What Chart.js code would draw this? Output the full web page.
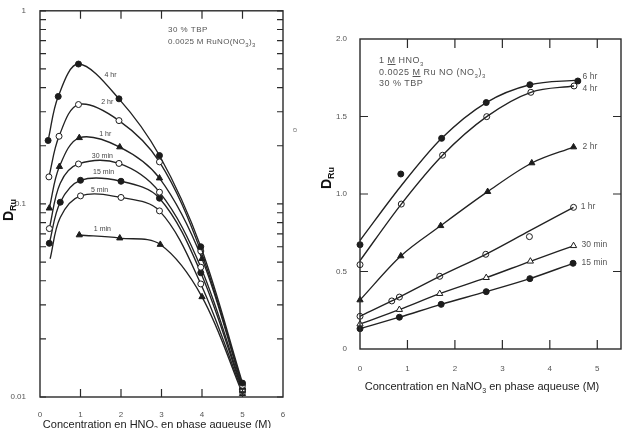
<!DOCTYPE html>
<html><head><meta charset="utf-8">
<script src="https://cdn.jsdelivr.net/npm/chart.js@4.4.1/dist/chart.umd.min.js"></script>
<style>
body{margin:0;background:#fff;}
#wrap{position:relative;width:628px;height:428px;overflow:hidden;background:#fff;font-family:'Liberation Sans',Arial,sans-serif;color:#333}
.box{position:absolute;top:0;width:314px;height:428px}
.t{position:absolute;white-space:nowrap;line-height:1}
.ytitle{position:absolute;width:34px;height:16px;text-align:center;transform:rotate(-90deg);font-weight:bold;font-size:14px;color:#111;line-height:16px}
.ytitle sub{font-size:9px;vertical-align:-3px}
</style></head><body>
<div id="wrap">
<div class="box" style="left:0"><canvas id="leftChart"></canvas></div>
<div class="box" style="left:314px"><canvas id="rightChart"></canvas></div>

<div class="t" style="left:168px;top:26px;font-size:8px;letter-spacing:.5px;color:#555">30 % TBP</div>
<div class="t" style="left:168px;top:38px;font-size:8px;letter-spacing:.3px;color:#555">0.0025 M RuNO(NO<sub style="font-size:6px">3</sub>)<sub style="font-size:6px">3</sub></div>
<div class="t" style="left:293px;top:126px;font-size:8px;color:#777;transform:rotate(-90deg)">o</div>

<div class="t" style="left:379px;top:56px;font-size:9px;letter-spacing:.5px;color:#555">1 <u>M</u> HNO<sub style="font-size:6px">3</sub></div>
<div class="t" style="left:379px;top:68px;font-size:9px;letter-spacing:.5px;color:#555">0.0025 <u>M</u> Ru NO (NO<sub style="font-size:6px">3</sub>)<sub style="font-size:6px">3</sub></div>
<div class="t" style="left:379px;top:79px;font-size:9px;letter-spacing:.5px;color:#555">30 % TBP</div>

<div class="ytitle" style="left:-9px;top:202px">D<sub>Ru</sub></div>
<div class="ytitle" style="left:309px;top:170px">D<sub>Ru</sub></div>

<div class="t" style="left:0;width:314px;text-align:center;top:419px;font-size:11px;color:#222">Concentration en HNO<sub style="font-size:7px">3</sub> en phase aqueuse (M)</div>
<div class="t" style="left:314px;width:336px;text-align:center;top:381px;font-size:11px;color:#222">Concentration en NaNO<sub style="font-size:7px">3</sub> en phase aqueuse (M)</div>
</div>
<script>
// ---------- LEFT CHART : D_Ru vs [HNO3] (log scale) ----------
const hno3Ticks = [0, 1, 2, 3, 4, 5, 6];
const druLogLabels = [0.01, 0.1, 1];
const logMinorTicks = [0.02,0.03,0.04,0.05,0.06,0.07,0.08,0.09,0.2,0.3,0.4,0.5,0.6,0.7,0.8,0.9];

const hno3_4hr = [0.2, 0.45, 0.95, 1.95, 2.95, 3.97, 5.0];
const dru_4hr  = [0.213, 0.36, 0.53, 0.35, 0.178, 0.060, 0.0118];
const hno3_2hr = [0.22, 0.47, 0.95, 1.95, 2.95, 3.97, 5.0];
const dru_2hr  = [0.138, 0.224, 0.327, 0.27, 0.165, 0.057, 0.0115];
const hno3_1hr = [0.23, 0.48, 0.97, 1.97, 2.95, 4.0, 5.0];
const dru_1hr  = [0.095, 0.156, 0.22, 0.197, 0.136, 0.052, 0.0112];
const hno3_30m = [0.23, 0.5, 0.95, 1.95, 2.95, 3.97, 5.0];
const dru_30m  = [0.0745, 0.128, 0.161, 0.162, 0.115, 0.047, 0.0110];
const hno3_15m = [0.23, 0.5, 1.0, 2.0, 2.95, 3.97, 5.0];
const dru_15m  = [0.0625, 0.102, 0.1325, 0.131, 0.107, 0.044, 0.0108];
const hno3_5m  = [0.25, 0.5, 1.0, 2.0, 2.95, 3.97, 5.0];
const dru_5m   = [0.052, 0.085, 0.110, 0.108, 0.092, 0.0385, 0.0106];
const hno3_1m  = [0.97, 1.97, 2.97, 4.0, 5.0];
const dru_1m   = [0.069, 0.0665, 0.0616, 0.033, 0.0104];

// ---------- RIGHT CHART : D_Ru vs [NaNO3] ----------
const nano3Ticks = [0, 1, 2, 3, 4, 5];
const druLinTicks = [0, 0.5, 1.0, 1.5, 2.0];

const nano3_6hr = [0, 0.86, 1.72, 2.66, 3.58, 4.59];
const druN_6hr  = [0.673, 1.129, 1.359, 1.59, 1.705, 1.729];
const fit_6hr   = [0.70, 1.05, 1.359, 1.59, 1.705, 1.735];
const nano3_4hr = [0, 0.87, 1.74, 2.67, 3.6, 4.51];
const druN_4hr  = [0.544, 0.935, 1.25, 1.499, 1.656, 1.697];
const fit_4hr   = [0.57, 0.935, 1.25, 1.499, 1.656, 1.697];
const nano3_2hr = [0, 0.86, 1.7, 2.69, 3.62, 4.5];
const druN_2hr  = [0.316, 0.6, 0.795, 1.015, 1.2, 1.303];
const nano3_1hr = [0, 0.67, 0.83, 1.68, 2.65, 3.57, 4.5];
const druN_1hr  = [0.211, 0.31, 0.335, 0.469, 0.611, 0.725, 0.914];
const fit_1hr   = [0.211, 0.31, 0.335, 0.469, 0.611, 0.762, 0.914];
const nano3_30m = [0, 0.83, 1.68, 2.66, 3.59, 4.5];
const druN_30m  = [0.161, 0.254, 0.357, 0.46, 0.566, 0.666];
const nano3_15m = [0, 0.83, 1.71, 2.66, 3.58, 4.49];
const druN_15m  = [0.131, 0.205, 0.288, 0.37, 0.454, 0.553];

const INK = '#1c1c1c';
const pts = (xs, ys) => xs.map((x, i) => ({x, y: ys[i]}));

function series(label, xs, ys, shape, filled, opts) {
  opts = opts || {};
  const hide = opts.hide || [];
  const r = shape === 'triangle' ? 3.6 : 3;
  return {
    label, data: pts(xs, ys),
    showLine: opts.showLine !== false,
    borderColor: '#222', borderWidth: 1.35,
    tension: opts.tension ?? 0.35,
    cubicInterpolationMode: opts.mono ? 'monotone' : 'default',
    pointStyle: shape,
    pointRadius: opts.noPoints ? 0 : xs.map((_, i) => hide.includes(i) ? 0 : r),
    pointBackgroundColor: filled ? INK : '#fff',
    pointBorderColor: INK, pointBorderWidth: 1,
    fill: false, clip: false
  };
}

const framePlugin = {
  id: 'frame',
  afterDatasetsDraw(chart, args, o) {
    const {ctx, chartArea: a, scales: {x, y}} = chart;
    ctx.save();
    ctx.strokeStyle = '#2a2a2a'; ctx.lineWidth = 1.4;
    ctx.strokeRect(a.left, a.top, a.right - a.left, a.bottom - a.top);
    ctx.lineWidth = 1.2;
    ctx.beginPath();
    (o.xTicks || []).forEach(v => {
      const p = x.getPixelForValue(v);
      ctx.moveTo(p, a.bottom); ctx.lineTo(p, a.bottom - o.xLen);
      ctx.moveTo(p, a.top); ctx.lineTo(p, a.top + o.xLen);
    });
    (o.yTicks || []).forEach(v => {
      const p = y.getPixelForValue(v);
      ctx.moveTo(a.left, p); ctx.lineTo(a.left + o.yLen, p);
      ctx.moveTo(a.right, p); ctx.lineTo(a.right - o.yLen, p);
    });
    ctx.stroke();
    ctx.fillStyle = o.labelColor; ctx.font = o.labelFont; ctx.textBaseline = 'middle';
    (o.labels || []).forEach(l => {
      ctx.textAlign = l.align || 'left';
      ctx.fillText(l.text, x.getPixelForValue(l.x), y.getPixelForValue(l.y));
    });
    ctx.restore();
  }
};

const tickFont = {family: "'Liberation Sans', Arial, sans-serif", size: 8};

new Chart(document.getElementById('leftChart'), {
  type: 'line',
  data: {
    datasets: [
      series('4 hr', hno3_4hr, dru_4hr, 'circle', true),
      series('2 hr', hno3_2hr, dru_2hr, 'circle', false),
      series('1 hr', hno3_1hr, dru_1hr, 'triangle', true),
      series('30 min', hno3_30m, dru_30m, 'circle', false, {hide: [1]}),
      series('15 min', hno3_15m, dru_15m, 'circle', true),
      series('5 min', hno3_5m, dru_5m, 'circle', false, {hide: [0, 1]}),
      series('1 min', hno3_1m, dru_1m, 'triangle', true)
    ]
  },
  options: {
    responsive: true, maintainAspectRatio: false, animation: false, devicePixelRatio: 1,
    layout: {padding: {left: 0, right: 31, top: 5, bottom: 0}},
    plugins: {
      legend: {display: false}, tooltip: {enabled: false},
      frame: {
        xTicks: [1, 2, 3, 4, 5], xLen: 8,
        yTicks: druLogLabels.concat(logMinorTicks), yLen: 6,
        labelColor: '#444', labelFont: "7px 'Liberation Sans', Arial, sans-serif",
        labels: [
          {text: '4 hr', x: 1.74, y: 0.466, align: 'center'},
          {text: '2 hr', x: 1.66, y: 0.335, align: 'center'},
          {text: '1 hr', x: 1.61, y: 0.230, align: 'center'},
          {text: '30 min', x: 1.54, y: 0.176, align: 'center'},
          {text: '15 min', x: 1.57, y: 0.146, align: 'center'},
          {text: '5 min', x: 1.47, y: 0.118, align: 'center'},
          {text: '1 min', x: 1.54, y: 0.0737, align: 'center'}
        ]
      }
    },
    scales: {
      x: {
        type: 'linear', min: 0, max: 6,
        grid: {display: false}, border: {display: false},
        ticks: {stepSize: 1, padding: 5, color: '#555', font: tickFont,
          callback: v => hno3Ticks.includes(v) ? String(v) : ''},
        afterFit: s => { s.height = 31; }
      },
      y: {
        type: 'logarithmic', min: 0.01, max: 1,
        grid: {display: false}, border: {display: false},
        ticks: {autoSkip: false, padding: 6, color: '#555', font: tickFont,
          callback: v => { const t = druLogLabels.find(t => Math.abs(t - v) / t < 1e-6); return t !== undefined ? String(t) : ''; }},
        afterFit: s => { s.width = 40; }
      }
    }
  },
  plugins: [framePlugin]
});

new Chart(document.getElementById('rightChart'), {
  type: 'line',
  data: {
    datasets: [
      series('6 hr fit', nano3_6hr, fit_6hr, 'circle', true, {noPoints: true, mono: true}),
      series('6 hr', nano3_6hr, druN_6hr, 'circle', true, {showLine: false}),
      series('4 hr fit', nano3_4hr, fit_4hr, 'circle', false, {noPoints: true, mono: true}),
      series('4 hr', nano3_4hr, druN_4hr, 'circle', false, {showLine: false}),
      series('2 hr', nano3_2hr, druN_2hr, 'triangle', true, {mono: true}),
      series('1 hr fit', nano3_1hr, fit_1hr, 'circle', false, {noPoints: true, mono: true}),
      series('1 hr', nano3_1hr, druN_1hr, 'circle', false, {showLine: false}),
      series('30 min', nano3_30m, druN_30m, 'triangle', false, {mono: true}),
      series('15 min', nano3_15m, druN_15m, 'circle', true, {mono: true})
    ]
  },
  options: {
    responsive: true, maintainAspectRatio: false, animation: false, devicePixelRatio: 1,
    layout: {padding: {left: 0, right: 7, top: 39, bottom: 0}},
    plugins: {
      legend: {display: false}, tooltip: {enabled: false},
      frame: {
        xTicks: [1, 2, 3, 4, 5], xLen: 9,
        yTicks: [0.5, 1.0, 1.5], yLen: 8,
        labelColor: '#555', labelFont: "8.5px 'Liberation Sans', Arial, sans-serif",
        labels: [
          {text: '6 hr', x: 4.69, y: 1.755},
          {text: '4 hr', x: 4.69, y: 1.677},
          {text: '2 hr', x: 4.69, y: 1.303},
          {text: '1 hr', x: 4.65, y: 0.916},
          {text: '30 min', x: 4.67, y: 0.671},
          {text: '15 min', x: 4.67, y: 0.555}
        ]
      }
    },
    scales: {
      x: {
        type: 'linear', min: 0, max: 5.5,
        grid: {display: false}, border: {display: false},
        ticks: {stepSize: 1, includeBounds: false, padding: 7, color: '#555', font: tickFont,
          callback: v => nano3Ticks.includes(v) ? String(v) : ''},
        afterFit: s => { s.height = 79; }
      },
      y: {
        type: 'linear', min: 0, max: 2,
        grid: {display: false}, border: {display: false},
        ticks: {stepSize: 0.5, padding: 5, color: '#555', font: tickFont,
          callback: v => { const t = druLinTicks.find(t => Math.abs(t - v) < 1e-6); return t === undefined ? '' : (t === 0 ? '0' : t.toFixed(1)); }},
        afterFit: s => { s.width = 46; }
      }
    }
  },
  plugins: [framePlugin]
});
</script>
</body></html>
